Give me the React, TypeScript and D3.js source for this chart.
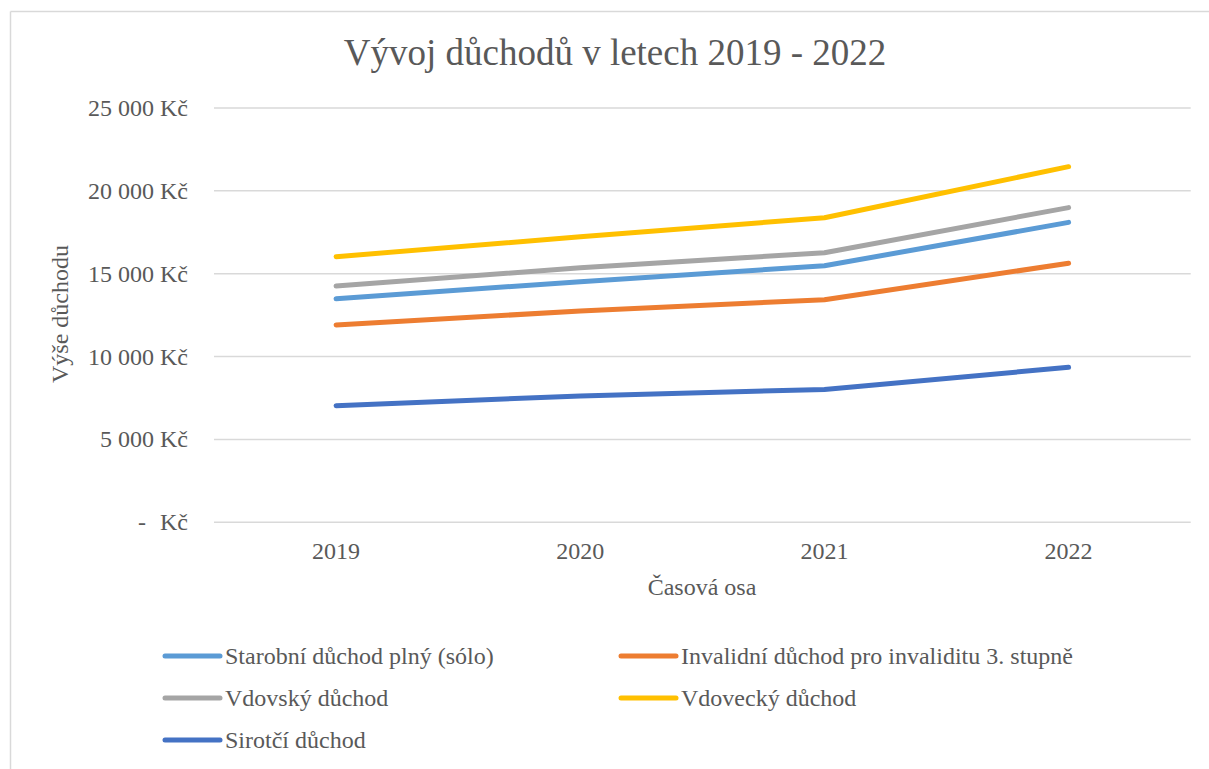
import React from "react";
import * as d3 from "d3";

const years = ["2019", "2020", "2021", "2022"];
const starobni = [13490, 14520, 15480, 18100];
const invalidni = [11910, 12750, 13430, 15630];
const vdovsky = [14260, 15360, 16270, 18990];
const vdovecky = [16030, 17230, 18380, 21460];
const sirotci = [7040, 7620, 8020, 9350];
const yTicks = [0, 5000, 10000, 15000, 20000, 25000];

const seriesNames = [
  "Starobní důchod plný (sólo)",
  "Invalidní důchod pro invaliditu 3. stupně",
  "Vdovský důchod",
  "Vdovecký důchod",
  "Sirotčí důchod",
];
const seriesValues = [starobni, invalidni, vdovsky, vdovecky, sirotci];
const seriesColors = ["#5B9BD5", "#ED7D31", "#A5A5A5", "#FFC000", "#4472C4"];

const W = 1209;
const H = 769;
const FONT = "'Liberation Serif', 'Times New Roman', serif";
const TEXT = "#595959";

function fmt(v: number) {
  if (v === 0) return null;
  return d3.format(",")(v).replace(/,/g, " ") + " Kč";
}

export default function App() {
  const x = d3.scaleBand<string>().domain(years).range([214, 1190.7]);
  const y = d3.scaleLinear().domain([0, 25000]).range([522.3, 108]);
  const line = d3
    .line<number>()
    .x((_, i) => (x(years[i]) as number) + x.bandwidth() / 2)
    .y((d) => y(d));

  const legendPos = [
    { x: 165, y: 656 },
    { x: 621, y: 656 },
    { x: 165, y: 698 },
    { x: 621, y: 698 },
    { x: 165, y: 740 },
  ];

  const ts = { fontFamily: FONT };

  return (
    <svg
      width={W}
      height={H}
      style={{ position: "absolute", left: 0, top: 0, background: "#fff", fontFamily: FONT }}
    >
      <rect x={0} y={0} width={W} height={H} fill="#fff" />
      <line x1={10.5} y1={11.5} x2={10.5} y2={H} stroke="#D9D9D9" strokeWidth={1.5} />
      <line x1={10.5} y1={11.5} x2={W} y2={11.5} stroke="#D9D9D9" strokeWidth={1.5} />
      <text x={615} y={65} textAnchor="middle" fontSize={37} fill={TEXT} style={ts}>
        Vývoj důchodů v letech 2019 - 2022
      </text>
      {yTicks.map((t) => (
        <g key={t}>
          <line x1={214} x2={1190.7} y1={y(t)} y2={y(t)} stroke="#D9D9D9" strokeWidth={1.5} />
          {t === 0 ? (
            <>
              <text x={188} y={y(t) + 8} textAnchor="end" fontSize={24} fill={TEXT} style={ts}>
                Kč
              </text>
              <text x={142} y={y(t) + 8} textAnchor="middle" fontSize={24} fill={TEXT} style={ts}>
                -
              </text>
            </>
          ) : (
            <text x={188} y={y(t) + 8} textAnchor="end" fontSize={24} fill={TEXT} style={ts}>
              {fmt(t)}
            </text>
          )}
        </g>
      ))}
      {years.map((yr) => (
        <text
          key={yr}
          x={(x(yr) as number) + x.bandwidth() / 2}
          y={559}
          textAnchor="middle"
          fontSize={24}
          fill={TEXT}
          style={ts}
        >
          {yr}
        </text>
      ))}
      <text x={702} y={595} textAnchor="middle" fontSize={24} fill={TEXT} style={ts}>
        Časová osa
      </text>
      <text
        transform={`translate(68,314) rotate(-90)`}
        textAnchor="middle"
        fontSize={24}
        fill={TEXT}
        style={ts}
      >
        Výše důchodu
      </text>
      {seriesValues.map((vals, i) => (
        <path
          key={i}
          d={line(vals) as string}
          fill="none"
          stroke={seriesColors[i]}
          strokeWidth={5}
          strokeLinecap="round"
          strokeLinejoin="round"
        />
      ))}
      {seriesNames.map((name, i) => (
        <g key={name}>
          <line
            x1={legendPos[i].x}
            x2={legendPos[i].x + 55}
            y1={legendPos[i].y}
            y2={legendPos[i].y}
            stroke={seriesColors[i]}
            strokeWidth={5}
            strokeLinecap="round"
          />
          <text x={legendPos[i].x + 60} y={legendPos[i].y + 8} fontSize={24} fill={TEXT} style={ts}>
            {name}
          </text>
        </g>
      ))}
    </svg>
  );
}
